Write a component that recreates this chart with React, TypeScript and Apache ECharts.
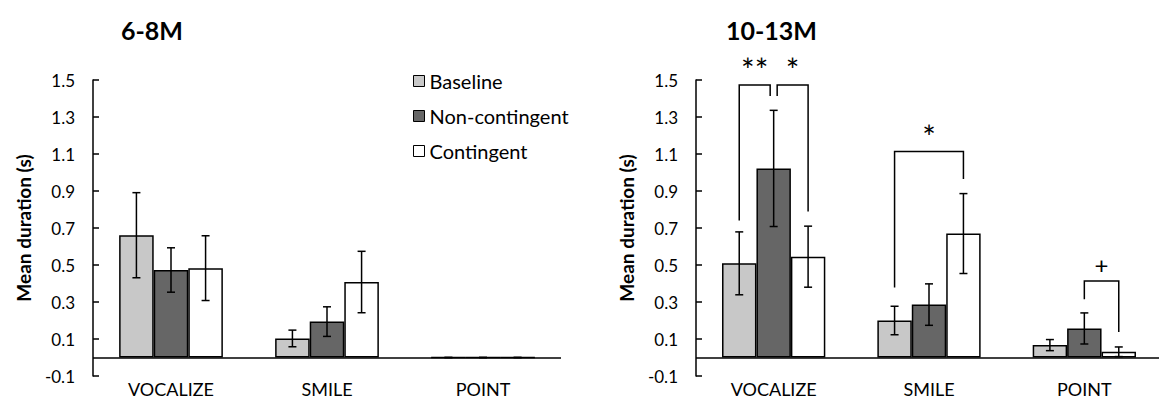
import React, { useEffect, useRef } from "react";
import * as echarts from "echarts";

const categories = ["VOCALIZE", "SMILE", "POINT"];
const seriesNames = ["Baseline", "Non-contingent", "Contingent"];
const seriesColors = ["#c8c8c8", "#666666", "#ffffff"];
const panelTitles = ["6-8M", "10-13M"];
const yTicks = { min: -0.1, max: 1.5, interval: 0.2 };

// 6-8M
const young = {
  means: [
    [0.661, 0.103, 0],
    [0.473, 0.194, 0],
    [0.483, 0.408, 0],
  ],
  errors: [
    [0.23, 0.045, 0],
    [0.12, 0.08, 0],
    [0.175, 0.166, 0],
  ],
};
// 10-13M
const older = {
  means: [
    [0.509, 0.2, 0.067],
    [1.022, 0.286, 0.157],
    [0.545, 0.67, 0.031],
  ],
  errors: [
    [0.17, 0.077, 0.03],
    [0.314, 0.112, 0.084],
    [0.165, 0.216, 0.026],
  ],
};

// brackets on 10-13M panel: [category, fromBar, toBar, top, leftEnd, rightEnd]
const brackets = [
  [0, 0, 1, 1.473, 0.74, 1.414],
  [0, 1, 2, 1.473, 1.414, 0.789],
  [1, 0, 2, 1.114, 0.378, 0.965],
  [2, 1, 2, 0.413, 0.315, 0.138],
];
const bracketLabels = ["**", "*", "*", "+"];

const FONT = "Lato, 'Open Sans', sans-serif";
const CAT_GAP = 0.335;

function barX(api: any, cat: number, idx: number) {
  const c = api.coord([cat, 0]);
  const band = api.size([1, 0])[0];
  const bw = (band * (1 - CAT_GAP)) / 3;
  return c[0] + (idx - 1) * bw;
}

export default function App() {
  const ref = useRef<HTMLDivElement>(null);
  useEffect(() => {
    if (!ref.current) return;
    const chart = echarts.init(ref.current, undefined, { renderer: "svg" });

    const grids = [
      { left: 93, top: 80, width: 468, height: 296, outerBoundsMode: "none", containLabel: false },
      { left: 696, top: 80, width: 466, height: 296, outerBoundsMode: "none", containLabel: false },
    ];
    const panels = [young, older];

    const xAxis: any[] = [];
    const yAxis: any[] = [];
    const series: any[] = [];

    panels.forEach((p, g) => {
      xAxis.push({
        type: "category",
        gridIndex: g,
        data: categories,
        position: "bottom",
        axisLine: { show: false, onZero: false },
        axisTick: { show: false },
        axisLabel: { color: "#000", fontSize: 18, lineHeight: 18, fontFamily: FONT, margin: 4 },
      });
      yAxis.push({
        type: "value",
        gridIndex: g,
        min: yTicks.min,
        max: yTicks.max,
        interval: yTicks.interval,
        name: "Mean duration (s)",
        nameLocation: "middle",
        nameGap: 60,
        nameTextStyle: { color: "#000", fontSize: 19, fontWeight: "bold", fontFamily: FONT },
        axisLine: { show: true, onZero: false, lineStyle: { color: "#000", width: 1.5 } },
        axisTick: { show: true, inside: true, length: 6, lineStyle: { color: "#000", width: 1.5 } },
        axisLabel: {
          color: "#000",
          fontSize: 17,
          fontFamily: FONT,
          margin: 18,
          formatter: (v: number) => v.toFixed(1),
        },
        splitLine: { show: false },
      });
      p.means.forEach((vals, i) => {
        const s: any = {
          type: "bar",
          name: seriesNames[i],
          xAxisIndex: g,
          yAxisIndex: g,
          data: vals,
          barGap: "0%",
          barCategoryGap: CAT_GAP * 100 + "%",
          itemStyle: { color: seriesColors[i], borderColor: "#000", borderWidth: 1.5 },
        };
        if (i === 0) {
          s.markLine = {
            silent: true,
            symbol: "none",
            label: { show: false },
            lineStyle: { color: "#000", width: 1.5, type: "solid" },
            data: [{ yAxis: 0 }],
            z: 20,
          };
        }
        series.push(s);
      });
      const errData: number[][] = [];
      p.means.forEach((vals, i) =>
        vals.forEach((v, c) => errData.push([c, i, v, p.errors[i][c]]))
      );
      series.push({
        type: "custom",
        xAxisIndex: g,
        yAxisIndex: g,
        data: errData,
        encode: { x: 0, y: 2 },
        z: 10,
        renderItem: (params: any, api: any) => {
          const cat = api.value(0);
          const idx = api.value(1);
          const v = api.value(2);
          const e = api.value(3);
          const x = barX(api, cat, idx);
          const yt = api.coord([cat, v + e])[1];
          const yb = api.coord([cat, v - e])[1];
          const st = { stroke: "#000", lineWidth: 1.5 };
          const hw = 4;
          return {
            type: "group",
            children: [
              { type: "line", shape: { x1: x, y1: yt, x2: x, y2: yb }, style: st },
              { type: "line", shape: { x1: x - hw, y1: yt, x2: x + hw, y2: yt }, style: st },
              { type: "line", shape: { x1: x - hw, y1: yb, x2: x + hw, y2: yb }, style: st },
            ],
          };
        },
      });
    });

    // brackets
    const shared = (cat: number, bar: number) =>
      brackets.some((b) => b[0] === cat && b[2] === bar) &&
      brackets.some((b) => b[0] === cat && b[1] === bar);
    series.push({
      type: "custom",
      xAxisIndex: 1,
      yAxisIndex: 1,
      data: brackets.map((b, i) => [...b, i]),
      encode: { x: 0, y: 3 },
      z: 10,
      renderItem: (params: any, api: any) => {
        const cat = api.value(0);
        const from = api.value(1);
        const to = api.value(2);
        const top = api.coord([cat, api.value(3)])[1];
        const lb = api.coord([cat, api.value(4)])[1];
        const rb = api.coord([cat, api.value(5)])[1];
        const i = api.value(6);
        let x1 = barX(api, cat, from);
        let x2 = barX(api, cat, to);
        if (shared(cat, from)) x1 += 3.5;
        if (shared(cat, to)) x2 -= 3.5;
        const lab = bracketLabels[i];
        const star = lab.indexOf("*") >= 0;
        return {
          type: "group",
          children: [
            {
              type: "polyline",
              shape: { points: [[x1, lb], [x1, top], [x2, top], [x2, rb]] },
              style: { stroke: "#000", lineWidth: 1.5, fill: "none" },
            },
            {
              type: "text",
              x: (x1 + x2) / 2,
              y: top - (star ? 15 : 17),
              style: {
                text: lab,
                fontSize: star ? 32 : 24,
                fontFamily: FONT,
                fill: "#000",
                align: "center",
                verticalAlign: "middle",
              },
            },
          ],
        };
      },
    });

    chart.setOption({
      animation: false,
      backgroundColor: "#fff",
      title: [
        { text: panelTitles[0], left: 116, top: 12, textStyle: { fontSize: 25, fontWeight: "bold", fontFamily: FONT, color: "#000" } },
        { text: panelTitles[1], left: 721, top: 12, textStyle: { fontSize: 25, fontWeight: "bold", fontFamily: FONT, color: "#000" } },
      ],
      legend: {
        data: seriesNames,
        orient: "vertical",
        left: 408,
        top: 66,
        icon: "rect",
        itemWidth: 11,
        itemHeight: 11,
        itemGap: 15,
        itemStyle: { borderColor: "#000", borderWidth: 1 },
        textStyle: { fontSize: 20, lineHeight: 20, fontFamily: FONT, color: "#000" },
      },
      grid: grids,
      xAxis,
      yAxis,
      series,
    });
    return () => chart.dispose();
  }, []);
  return <div ref={ref} style={{ position: "fixed", left: 0, top: 0, width: 1159, height: 399 }} />;
}
